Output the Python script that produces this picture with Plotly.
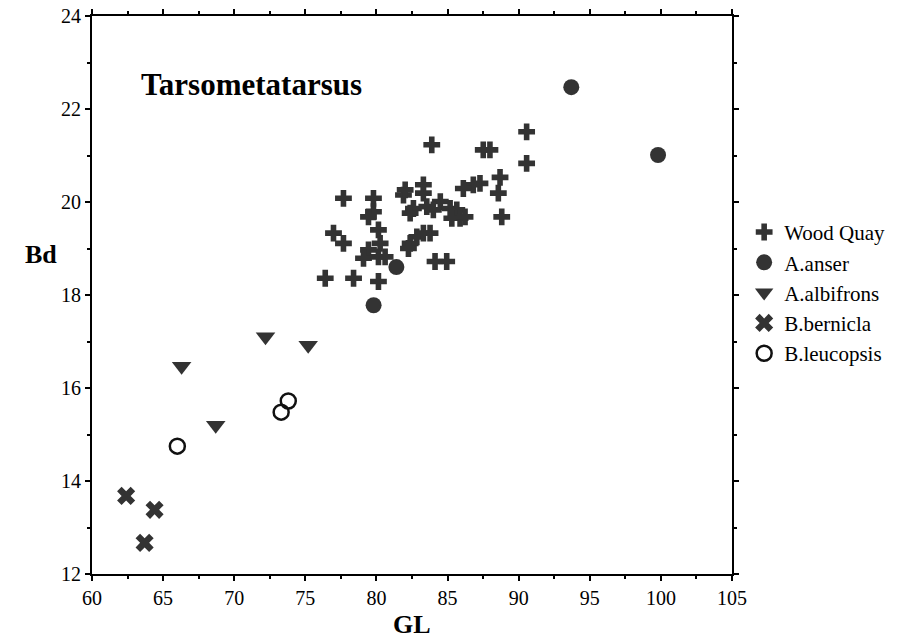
import plotly.graph_objects as go

# Wood Quay
wq_x = [90.56, 83.89, 87.51, 87.98, 90.56, 88.69, 88.57, 88.81, 87.28, 86.81,
        86.11, 77.68, 79.79, 79.79, 79.44, 81.90, 82.02, 83.30, 83.30, 82.60,
        82.37, 83.54, 84.49, 84.00, 85.18, 85.65, 85.88, 85.30, 86.23, 80.14,
        76.98, 77.68, 79.44, 79.09, 80.26, 80.61, 82.84, 83.77, 83.30, 82.37,
        82.25, 84.12, 84.94, 76.40, 78.39, 80.14, 80.14]
wq_y = [21.51, 21.23, 21.12, 21.12, 20.83, 20.53, 20.19, 19.68, 20.40, 20.37,
        20.29, 20.08, 20.08, 19.79, 19.68, 20.15, 20.26, 20.37, 20.19, 19.86,
        19.76, 19.90, 20.01, 19.83, 19.86, 19.83, 19.65, 19.65, 19.68, 19.40,
        19.33, 19.11, 18.97, 18.79, 19.11, 18.82, 19.25, 19.33, 19.33, 19.11,
        19.00, 18.72, 18.72, 18.36, 18.36, 18.29, 18.82]

# A.anser
anser_x = [93.7, 99.8, 81.4, 79.8]
anser_y = [22.47, 21.01, 18.60, 17.78]

# A.albifrons
albi_x = [66.3, 72.2, 75.2, 68.7]
albi_y = [16.47, 17.10, 16.92, 15.20]

# B.bernicla
bern_x = [62.4, 64.4, 63.7]
bern_y = [13.68, 13.38, 12.67]

# B.leucopsis
leuc_x = [66.0, 73.3, 73.8]
leuc_y = [14.75, 15.48, 15.72]

dark = "#333333"
serif = "Liberation Serif, Times New Roman, serif"

fig = go.Figure()
fig.add_trace(go.Scatter(x=wq_x, y=wq_y, mode="markers", name="Wood Quay",
                         marker=dict(symbol="cross", size=14, color=dark)))
fig.add_trace(go.Scatter(x=anser_x, y=anser_y, mode="markers", name="A.anser",
                         marker=dict(symbol="circle", size=16, color=dark)))
fig.add_trace(go.Scatter(x=albi_x, y=albi_y, mode="markers", name="A.albifrons",
                         marker=dict(symbol="triangle-down", size=17, color=dark)))
fig.add_trace(go.Scatter(x=bern_x, y=bern_y, mode="markers", name="B.bernicla",
                         marker=dict(symbol="x", size=16, color=dark)))
fig.add_trace(go.Scatter(x=leuc_x, y=leuc_y, mode="markers", name="B.leucopsis",
                         marker=dict(symbol="circle-open", size=15, color="#111111",
                                     line=dict(width=2.5, color="#111111"))))

axis_common = dict(showgrid=False, zeroline=False, showline=True, linecolor="black",
                   linewidth=2, mirror="ticks", ticks="outside", ticklen=5,
                   tickwidth=2, tickcolor="black",
                   tickfont=dict(family=serif, size=20, color="black"))

fig.update_xaxes(range=[60, 105], dtick=5, tick0=60,
                 minor=dict(dtick=2.5, ticks="outside", ticklen=3, tickwidth=2,
                            tickcolor="black"),
                 **axis_common)
fig.update_yaxes(range=[12, 24], dtick=2, tick0=12,
                 minor=dict(dtick=1, ticks="outside", ticklen=3, tickwidth=2,
                            tickcolor="black"),
                 **axis_common)

fig.add_annotation(x=63.3, y=22.52, xref="x", yref="y", text="<b>Tarsometatarsus</b>",
                   showarrow=False, xanchor="left", yanchor="middle",
                   font=dict(family=serif, size=31, color="black"))
fig.add_annotation(x=-0.08, y=0.572, xref="paper", yref="paper", text="<b>Bd</b>",
                   showarrow=False, xanchor="center", yanchor="middle",
                   font=dict(family=serif, size=26, color="black"))
fig.add_annotation(x=0.5, y=-0.091, xref="paper", yref="paper", text="<b>GL</b>",
                   showarrow=False, xanchor="center", yanchor="middle",
                   font=dict(family=serif, size=26, color="black"))

fig.update_layout(
    width=899, height=643,
    margin=dict(l=92, r=167, t=16, b=69, autoexpand=False),
    paper_bgcolor="white", plot_bgcolor="white",
    showlegend=True,
    legend=dict(x=1.019, y=0.649, xanchor="left", yanchor="top",
                font=dict(family=serif, size=21, color="black"),
                bgcolor="rgba(0,0,0,0)", itemwidth=30, tracegroupgap=0),
)

fig.write_html("out.html")
